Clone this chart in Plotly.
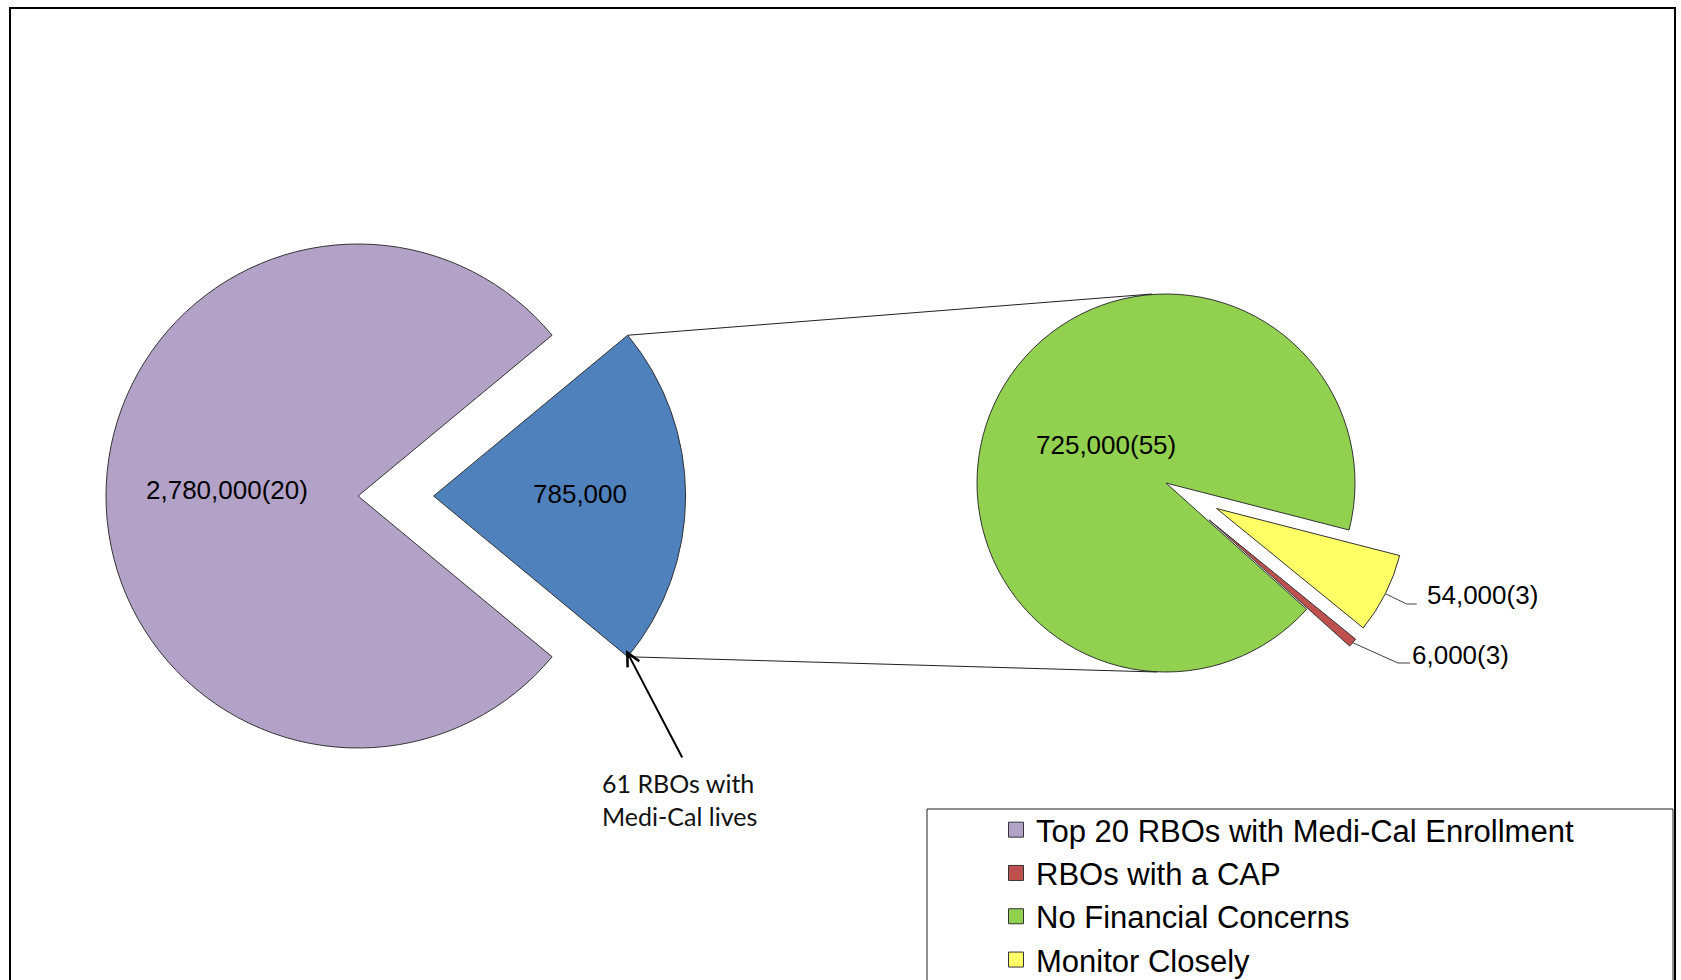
import math
import plotly.graph_objects as go

# ---------------- data ----------------
left_labels = ["61 RBOs with Medi-Cal lives", "Top 20 RBOs with Medi-Cal Enrollment"]
left_values = [785000, 2780000]
left_counts = [61, 20]
left_colors = ["#4F81BD", "#B3A2C7"]

right_labels = ["Monitor Closely", "RBOs with a CAP", "No Financial Concerns"]
right_values = [54000, 6000, 725000]
right_counts = [3, 3, 55]
right_colors = ["#FFFF66", "#C0504D", "#92D050"]

legend_labels = ["Top 20 RBOs with Medi-Cal Enrollment", "RBOs with a CAP",
                 "No Financial Concerns", "Monitor Closely"]
legend_colors = ["#B3A2C7", "#C0504D", "#92D050", "#FFFF66"]

callout_text = "61 RBOs with<br>Medi-Cal lives"

# ---------------- layout geometry (pixels) ----------------
W, H = 1681, 980
LCX, LCY, LR, LPULL = 358, 496, 252, 0.3
RCX, RCY, RR, RPULL = 1166, 483, 189, 0.3
R_ROT = 104.4


def px(x):
    return x / W


def py(y):
    return 1 - y / H


def domain(cx, cy, r, pull):
    s = r * (2 + 2 * pull)
    return dict(x=[px(cx - s / 2), px(cx + s / 2)], y=[py(cy + s / 2), py(cy - s / 2)])


def fmt(v, c=None):
    s = f"{v:,}"
    return s if c is None else f"{s}({c})"


left_total = sum(left_values)
blue_deg = left_values[0] / left_total * 360
L_ROT = 90 - blue_deg / 2

fig = go.Figure()

fig.add_trace(go.Pie(
    labels=left_labels, values=left_values, sort=False, direction="clockwise",
    rotation=L_ROT, pull=[LPULL, 0], textinfo="none", showlegend=False,
    marker=dict(colors=left_colors, line=dict(color="#333333", width=1)),
    domain=domain(LCX, LCY, LR, LPULL), hoverinfo="label+value",
))

fig.add_trace(go.Pie(
    labels=right_labels, values=right_values, sort=False, direction="clockwise",
    rotation=R_ROT, pull=[RPULL, RPULL, 0], textinfo="none", showlegend=False,
    marker=dict(colors=right_colors, line=dict(color="#333333", width=1)),
    domain=domain(RCX, RCY, RR, RPULL), hoverinfo="label+value",
))

# legend entries
for lab, col in zip(legend_labels, legend_colors):
    fig.add_trace(go.Scatter(
        x=[None], y=[None], mode="markers", name=lab,
        marker=dict(symbol="square", size=15, color=col, line=dict(color="#333333", width=1)),
    ))

# ---------------- geometry helpers for connectors ----------------
r_total = sum(right_values)
ang = R_ROT
slice_geo = []
for v in right_values:
    d = v / r_total * 360
    slice_geo.append(ang + d / 2)
    ang += d


def pt_on_slice(cx, cy, r, pull, mid_deg, rad):
    a = math.radians(mid_deg)
    ox = cx + pull * r * math.sin(a)
    oy = cy - pull * r * math.cos(a)
    return ox + rad * math.sin(a), oy - rad * math.cos(a)


shapes = []
line_style = dict(color="#404040", width=1)

# connector lines from the pulled blue slice to the secondary pie
bx = LCX + LPULL * LR
b_half = math.radians(blue_deg / 2)
blue_top = (bx + LR * math.cos(b_half), LCY - LR * math.sin(b_half))
blue_bot = (bx + LR * math.cos(b_half), LCY + LR * math.sin(b_half))
green_top = (RCX - 14, RCY - RR)
green_bot = (RCX - 9, RCY + RR)
for a, b in [(blue_top, green_top), (blue_bot, green_bot)]:
    shapes.append(dict(type="line", xref="paper", yref="paper",
                       x0=px(a[0]), y0=py(a[1]), x1=px(b[0]), y1=py(b[1]),
                       line=dict(color="#202020", width=1)))

# leader lines for outside labels
yx, yy = pt_on_slice(RCX, RCY, RR, RPULL, slice_geo[0], RR)
rx, ry = pt_on_slice(RCX, RCY, RR, RPULL, slice_geo[1], RR)
leaders = [
    [(yx, yy), (1406.7, 604), (1416.7, 604)],
    [(rx, ry), (1398, 663), (1410, 663)],
]
for pts in leaders:
    path = "M " + " L ".join(f"{px(x)},{py(y)}" for x, y in pts)
    shapes.append(dict(type="path", xref="paper", yref="paper", path=path, line=line_style))

# outer frame and legend frame
shapes.append(dict(type="rect", xref="paper", yref="paper",
                   x0=px(10), y0=py(995), x1=px(1675), y1=py(8),
                   line=dict(color="black", width=2)))
shapes.append(dict(type="rect", xref="paper", yref="paper",
                   x0=px(927), y0=py(995), x1=px(1673), y1=py(809),
                   line=dict(color="#222222", width=1), fillcolor="rgba(0,0,0,0)"))

# ---------------- annotations ----------------
lab_font = dict(family="Liberation Sans, Arial, sans-serif", size=26, color="black")
annotations = [
    dict(x=px(227), y=py(490), text=fmt(left_values[1], left_counts[1]), font=lab_font),
    dict(x=px(580), y=py(494), text=fmt(left_values[0]), font=lab_font),
    dict(x=px(1106), y=py(445), text=fmt(right_values[2], right_counts[2]), font=lab_font),
    dict(x=px(1425), y=py(595), text=fmt(right_values[0], right_counts[0]), font=lab_font,
         xanchor="left"),
    dict(x=px(1410), y=py(655), text=fmt(right_values[1], right_counts[1]), font=lab_font,
         xanchor="left"),
    dict(x=px(600), y=py(799), text=callout_text, xanchor="left", align="left",
         font=dict(family="Lato, Open Sans, sans-serif", size=25, color="#111111")),
    dict(x=px(626), y=py(650), ax=683 - 626, ay=759 - 650, text="", showarrow=True,
         arrowhead=5, arrowsize=1.3, arrowwidth=2, arrowcolor="black"),
]
for a in annotations:
    a.setdefault("xref", "paper")
    a.setdefault("yref", "paper")
    a.setdefault("showarrow", False)
    a.setdefault("xanchor", "center")
    a.setdefault("yanchor", "middle")

fig.update_layout(
    width=W, height=H, margin=dict(l=0, r=0, t=0, b=0, autoexpand=False),
    paper_bgcolor="white", plot_bgcolor="white",
    xaxis=dict(visible=False), yaxis=dict(visible=False),
    shapes=shapes, annotations=annotations,
    legend=dict(x=px(996), y=py(803), xanchor="left", yanchor="top",
                bgcolor="rgba(0,0,0,0)", borderwidth=0, itemclick=False,
                font=dict(family="Liberation Sans, Arial, sans-serif", size=31, color="black")),
)

fig.write_html("out.html", config={"displayModeBar": False},
               post_script="document.body.style.margin='0';document.body.style.overflow='hidden';")
